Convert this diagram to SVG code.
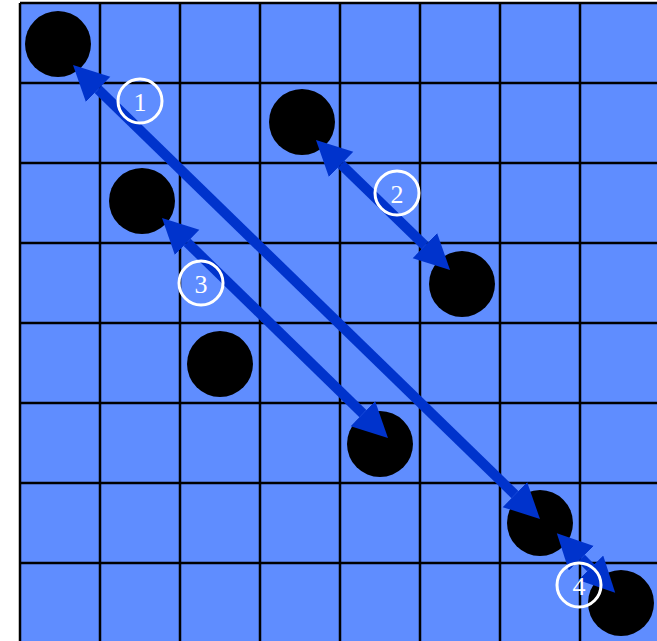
<svg xmlns="http://www.w3.org/2000/svg" width="657" height="641" viewBox="0 0 657 641">
<style>
.grid{stroke:#000;stroke-width:2.5}
.stone{fill:#000}
.arr{stroke:#0033cc;stroke-width:10;fill:none;marker-start:url(#ah);marker-end:url(#ah)}
.lbl circle{fill:none;stroke:#fff;stroke-width:3}
.lbl text{fill:#fff;font-family:"Liberation Serif",serif;font-size:26px;text-anchor:middle;dominant-baseline:central}
</style>
<defs>
<marker id="ah" markerUnits="userSpaceOnUse" markerWidth="36" markerHeight="36" refX="0" refY="17.5" orient="auto-start-reverse" viewBox="0 0 36 36">
<path d="M0,0 L35,17.5 L0,35 z" fill="#0033cc"/>
</marker>
</defs>
<rect width="657" height="641" fill="#fff"/>
<g id="board">
<rect x="20" y="3" width="660" height="660" fill="#5f8dff"/>
<g class="grid">
<line x1="20" y1="3" x2="20" y2="641"/>
<line x1="100" y1="3" x2="100" y2="641"/>
<line x1="180" y1="3" x2="180" y2="641"/>
<line x1="260" y1="3" x2="260" y2="641"/>
<line x1="340" y1="3" x2="340" y2="641"/>
<line x1="420" y1="3" x2="420" y2="641"/>
<line x1="500" y1="3" x2="500" y2="641"/>
<line x1="580" y1="3" x2="580" y2="641"/>
<line x1="20" y1="3" x2="657" y2="3"/>
<line x1="20" y1="83" x2="657" y2="83"/>
<line x1="20" y1="163" x2="657" y2="163"/>
<line x1="20" y1="243" x2="657" y2="243"/>
<line x1="20" y1="323" x2="657" y2="323"/>
<line x1="20" y1="403" x2="657" y2="403"/>
<line x1="20" y1="483" x2="657" y2="483"/>
<line x1="20" y1="563" x2="657" y2="563"/>
</g>
</g>
<g id="stones">
<circle id="s1" class="stone" cx="58" cy="44" r="33"/>
<circle id="s2" class="stone" cx="302" cy="122" r="33"/>
<circle id="s3" class="stone" cx="142" cy="201" r="33"/>
<circle id="s4" class="stone" cx="462" cy="284" r="33"/>
<circle id="s5" class="stone" cx="220" cy="364" r="33"/>
<circle id="s6" class="stone" cx="380" cy="444" r="33"/>
<circle id="s7" class="stone" cx="540" cy="523" r="33"/>
<circle id="s8" class="stone" cx="621" cy="603" r="33"/>
</g>
<g id="connectors">
<line class="arr" x1="98.1" y1="89.4" x2="514.9" y2="494.6"/>
<line class="arr" x1="341.1" y1="164.4" x2="424.9" y2="245.6"/>
<line class="arr" x1="187.1" y1="242.4" x2="362.9" y2="413.6"/>
<line class="arr" x1="581.3" y1="558.2" x2="590.7" y2="567.8"/>
</g>
<g id="label1" class="lbl"><circle cx="140" cy="101" r="22"/><text x="140" y="102">1</text></g>
<g id="label2" class="lbl"><circle cx="397" cy="193" r="22"/><text x="397" y="194">2</text></g>
<g id="label3" class="lbl"><circle cx="201" cy="283" r="22"/><text x="201" y="284">3</text></g>
<g id="label4" class="lbl"><circle cx="579" cy="585" r="22"/><text x="579" y="586">4</text></g>
</svg>
